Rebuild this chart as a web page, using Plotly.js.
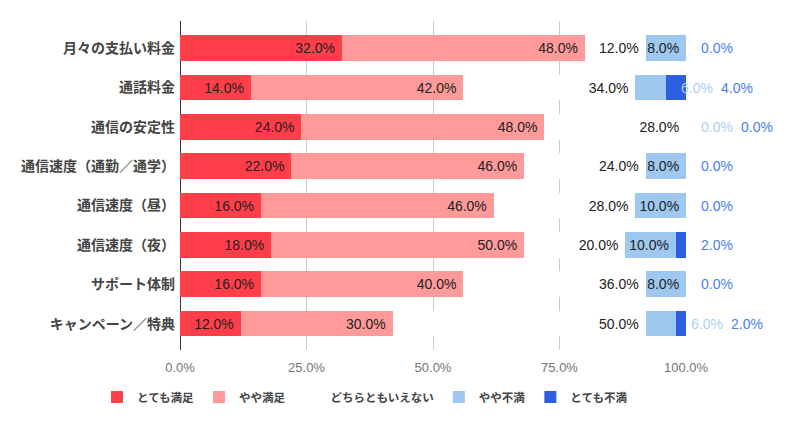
<!DOCTYPE html>
<html>
<head>
<meta charset="utf-8">
<script src="https://cdn.plot.ly/plotly-3.0.1.min.js"></script>
<style>
  html, body { margin: 0; padding: 0; background: #fff; }
  #chart { width: 810px; height: 428px; }
</style>
</head>
<body>
<div id="chart"></div>
<script>
// ---- Data ----
const categories = ['月々の支払い料金', '通話料金', '通信の安定性', '通信速度（通勤／通学）', '通信速度（昼）', '通信速度（夜）', 'サポート体制', 'キャンペーン／特典'];
const seriesNames = ['とても満足', 'やや満足', 'どちらともいえない', 'やや不満', 'とても不満'];
const verySatisfied    = [32, 14, 24, 22, 16, 18, 16, 12];
const satisfied        = [48, 42, 48, 46, 46, 50, 40, 30];
const neutral          = [12, 34, 28, 24, 28, 20, 36, 50];
const dissatisfied     = [8, 6, 0, 8, 10, 10, 8, 6];
const veryDissatisfied = [0, 4, 0, 0, 0, 2, 0, 2];
const xTicks = [0, 25, 50, 75, 100];
const xTickLabels = ['0.0%', '25.0%', '50.0%', '75.0%', '100.0%'];

// ---- Styles ----
const barColors   = ['#ff3e4a', '#ff9a9b', '#ffffff', '#9ec8ef', '#2b5fe0'];
const outLblColor = ['#ff3e4a', '#ff9a9b', '#999999', '#aad0f4', '#4a80ec'];
const seriesValues = [verySatisfied, satisfied, neutral, dissatisfied, veryDissatisfied];

const W = 810, H = 428;
const M = { l: 180, r: 124, t: 21, b: 78 };
const plotW = W - M.l - M.r;
const labelFontSize = 14;
const labelFontFamily = '"Liberation Sans", Arial, sans-serif';

const cv = document.createElement('canvas').getContext('2d');
cv.font = labelFontSize + 'px "Liberation Sans", Arial, sans-serif';
function textW(s) { return cv.measureText(s).width; }
function fmt(v) { return v.toFixed(1) + '%'; }

const traces = [];
const annotations = [];
const lastEnd = categories.map(() => -Infinity); // pixel end of last outside label per row
const cum = categories.map(() => 0);

seriesValues.forEach((vals, si) => {
  const texts = [];
  vals.forEach((v, ci) => {
    const start = cum[ci];
    const end = start + v;
    cum[ci] = end;
    const label = fmt(v);
    const segPx = v / 100 * plotW;
    if (textW(label) + 6 <= segPx) {
      texts.push(label + '\u00a0');
    } else {
      texts.push('');
      const endPx = end / 100 * plotW;
      const startPx = Math.max(endPx + 13, lastEnd[ci] + 8);
      lastEnd[ci] = startPx + textW(label);
      annotations.push({
        x: end, y: categories[ci], xref: 'x', yref: 'y',
        text: label, showarrow: false,
        xanchor: 'left', yanchor: 'middle',
        xshift: startPx - endPx,
        font: { family: labelFontFamily, size: labelFontSize, color: outLblColor[si] }
      });
    }
  });
  traces.push({
    type: 'bar',
    orientation: 'h',
    name: seriesNames[si],
    y: categories,
    x: vals,
    text: texts,
    textposition: 'inside',
    insidetextanchor: 'end',
    constraintext: 'none',
    textangle: 0,
    textfont: { family: labelFontFamily, size: labelFontSize, color: '#222222' },
    marker: { color: barColors[si], line: { width: 0 } },
    hoverinfo: 'skip'
  });
});

const layout = {
  width: W, height: H,
  margin: M,
  paper_bgcolor: '#ffffff',
  plot_bgcolor: '#ffffff',
  barmode: 'stack',
  bargap: 0.35,
  showlegend: true,
  hovermode: false,
  xaxis: {
    range: [0, 100],
    tickmode: 'array',
    tickvals: xTicks,
    ticktext: xTickLabels,
    showgrid: true,
    gridcolor: '#cccccc',
    gridwidth: 1,
    zeroline: true,
    zerolinecolor: '#333333',
    zerolinewidth: 1,
    showline: false,
    ticks: '',
    ticklabelstandoff: 8,
    tickfont: { family: '"Liberation Sans", Arial, sans-serif', size: 13, color: '#757575' },
    fixedrange: true
  },
  yaxis: {
    type: 'category',
    categoryorder: 'array',
    categoryarray: categories,
    range: [7.67, -0.69],
    autorange: false,
    showgrid: false,
    zeroline: false,
    showline: false,
    ticks: '',
    ticklabelstandoff: 4,
    tickfont: { family: '"Noto Sans CJK JP", sans-serif', size: 14, color: '#444444', weight: 'bold' },
    fixedrange: true
  },
  legend: {
    orientation: 'h',
    x: (97 - M.l) / plotW,
    xanchor: 'left',
    y: -(397 - (H - M.b)) / (H - M.t - M.b),
    yanchor: 'middle',
    traceorder: 'normal',
    font: { family: '"Noto Sans CJK JP", sans-serif', size: 11.5, color: '#444444', weight: 'bold' },
    bgcolor: 'rgba(0,0,0,0)'
  },
  annotations: annotations
};

Plotly.newPlot('chart', traces, layout, { displayModeBar: false, staticPlot: true });
</script>
</body>
</html>
